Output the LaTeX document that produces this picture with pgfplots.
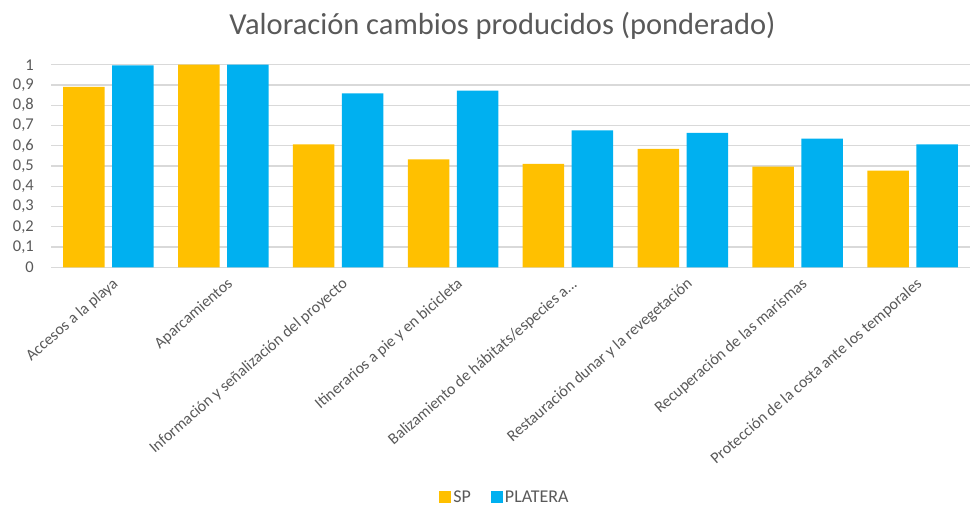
\documentclass[border=0pt]{standalone}
\usepackage{pgfplots}
\pgfplotsset{compat=1.18}
\usepackage{fontspec}
\setmainfont{Carlito}
\definecolor{spc}{HTML}{FFC000}
\definecolor{plc}{HTML}{00B0F0}
\definecolor{gridc}{HTML}{D9D9D9}
\definecolor{txt}{HTML}{595959}
\begin{document}
\begin{tikzpicture}
\useasboundingbox (0,0) rectangle (973bp,506bp);
\node[txt, font=\fontsize{30.5bp}{34bp}\selectfont, anchor=center] at (502.5bp,480bp) {Valoración cambios producidos (ponderado)};
\begin{axis}[
  at={(51bp,238.7bp)}, anchor=south west,
  scale only axis, width=919bp, height=202.6bp,
  xmin=-0.5, xmax=7.5, ymin=0, ymax=1,
  ybar, bar width=41.5bp,
  axis line style={draw=none},
  major tick length=0pt,
  ymajorgrids, major grid style={gridc, line width=1.3bp},
  ytick={0,0.1,0.2,0.3,0.4,0.5,0.6,0.7,0.8,0.9,1},
  yticklabels={0,{0,1},{0,2},{0,3},{0,4},{0,5},{0,6},{0,7},{0,8},{0,9},1},
  yticklabel style={anchor=east, inner sep=0pt, xshift=-17bp, font=\fontsize{16.5bp}{18bp}\selectfont, text=txt},
  xtick={0,1,2,3,4,5,6,7},
  xticklabels={{Accesos a la playa}, {Aparcamientos}, {Información y señalización del proyecto}, {Itinerarios a pie y en bicicleta}, {Balizamiento de hábitats/especies a.\kern0pt.\kern0pt.}, {Restauración dunar y la revegetación}, {Recuperación de las marismas}, {Protección de la costa ante los temporales}},
  xticklabel style={rotate=41, anchor=north east, inner sep=0pt, xshift=-4bp, yshift=-9bp, font=\fontsize{16bp}{18bp}\selectfont, text=txt},
  legend columns=2,
  legend style={at={(0.494,-1.134)}, anchor=center, draw=none, fill=none, font=\fontsize{18bp}{20bp}\selectfont, text=txt, /tikz/every even column/.append style={column sep=18bp}},
  legend image code/.code={\fill[#1] (0bp,-6bp) rectangle (12bp,6bp);},
]
\addplot[fill=spc, draw=none, bar shift=-24.5bp] coordinates {(0,0.89) (1,1.0) (2,0.607) (3,0.533) (4,0.51) (5,0.585) (6,0.497) (7,0.477)};
\addlegendentry{SP}
\addplot[fill=plc, draw=none, bar shift=24.5bp] coordinates {(0,0.997) (1,1.0) (2,0.859) (3,0.872) (4,0.676) (5,0.664) (6,0.635) (7,0.607)};
\addlegendentry{PLATERA}
\end{axis}
\end{tikzpicture}
\end{document}
